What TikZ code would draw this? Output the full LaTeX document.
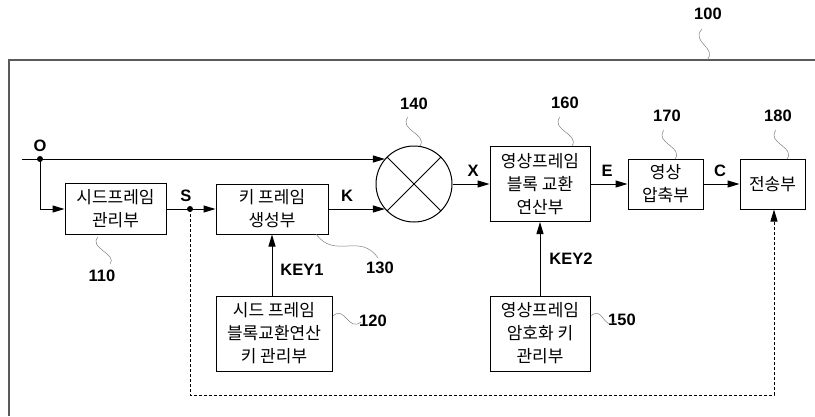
\documentclass[tikz,border=0pt]{standalone}
\usepackage{fontspec}
\setmainfont{Liberation Sans}
\newfontfamily\kr{Noto Sans CJK KR}
\usetikzlibrary{arrows.meta}
\definecolor{framegray}{HTML}{5A5A5A}

\begin{document}
\begin{tikzpicture}[x=1pt,y=-1pt,line width=1pt,
    arr/.style={-{Triangle[length=12pt,width=7pt]}},
    blk/.style={draw,align=center,inner sep=0pt,font=\kr\fontsize{17}{23}\selectfont},
    lbl/.style={font=\bfseries\fontsize{16.5}{16.5}\selectfont},
    lead/.style={line width=0.5pt,gray}]
        \useasboundingbox (0,0) rectangle (815,416);
        \draw[framegray,line width=1.3pt] (815,60)--(9,60)--(9,416);

        % blocks
        \node[blk,minimum width=101pt,minimum height=51pt] (b110) at (115.5,209) {시드프레임\\관리부};
        \node[blk,minimum width=112pt,minimum height=50pt] (b130) at (272,209) {키 프레임\\생성부};
        \node[blk,minimum width=116pt,minimum height=75pt] (b120) at (274,333.5) {시드 프레임\\블록교환연산\\키 관리부};
        \node[draw,circle,inner sep=0pt,minimum size=76pt] (mix) at (414,184) {};
        \draw (mix.45)--(mix.225) (mix.135)--(mix.315);
        \node[blk,minimum width=100pt,minimum height=75pt] (b160) at (540,184) {영상프레임\\블록 교환\\연산부};
        \node[blk,minimum width=100pt,minimum height=75pt] (b150) at (540,333.5) {영상프레임\\암호화 키\\관리부};
        \node[blk,minimum width=75pt,minimum height=50pt] (b170) at (665.5,184) {영상\\압축부};
        \node[blk,minimum width=65pt,minimum height=50pt] (b180) at (772.5,184) {전송부};

        % signals
        \coordinate (src) at (22,159);
        \fill (40,159) circle (3pt) coordinate (odot);
        \fill (190,209) circle (3pt) coordinate (sdot);
        \draw[arr] (src)--(src -| mix.139);
        \draw[arr] (odot)|-(b110.west);
        \draw[arr] (b110.east)--(b130.west);
        \draw[arr] (b130.east)--(b130.east -| mix.221);
        \draw[arr] (b130.south |- b120.north)--(b130.south);
        \draw[arr] (mix.east)--(b160.west);
        \draw[arr] (b150.north)--(b160.south);
        \draw[arr] (b160.east)--(b170.west);
        \draw[arr] (b170.east)--(b180.west);
        \draw[arr,dashed,dash pattern=on 3pt off 2pt] (sdot)--++(0,186)-|([xshift=1.5pt]b180.south);

        \node[lbl] at (40,146) {O};
        \node[lbl] at (186,196) {S};
        \node[lbl] at (347,196) {K};
        \node[lbl] at (473,171) {X};
        \node[lbl] at (607,171) {E};
        \node[lbl] at (720,171) {C};
        \node[lbl] at (302,270) {KEY1};
        \node[lbl] at (571,259) {KEY2};

        % reference numerals
        \node[lbl] (n100) at (708,14) {100};
        \node[lbl] (n110) at (102,276) {110};
        \node[lbl] (n120) at (373,321) {120};
        \node[lbl] (n130) at (380,268) {130};
        \node[lbl] (n140) at (414,104) {140};
        \node[lbl] (n150) at (622,320) {150};
        \node[lbl] (n160) at (565,103) {160};
        \node[lbl] (n170) at (667,116) {170};
        \node[lbl] (n180) at (778,116) {180};
        \draw[lead] (702,29) .. controls (690,42) and (718,48) .. (707,60);
        \draw[lead] (408,117) .. controls (398,130) and (428,134) .. (420,146);
        \draw[lead] (560,117) .. controls (550,130) and (580,134) .. (572,146);
        \draw[lead] (664,130) .. controls (654,143) and (684,147) .. (675,159);
        \draw[lead] (776,130) .. controls (766,143) and (796,147) .. (787,159);
        \draw[lead] (98,237) .. controls (88,248) and (118,254) .. (110,264);
        \draw[lead] (316,234) .. controls (335,260) and (360,232) .. (378,258);
        \draw[lead] (333,316) .. controls (345,305) and (348,332) .. (361,322);
        \draw[lead] (591,316) .. controls (603,305) and (604,332) .. (615,321);
      \end{tikzpicture}
\end{document}
